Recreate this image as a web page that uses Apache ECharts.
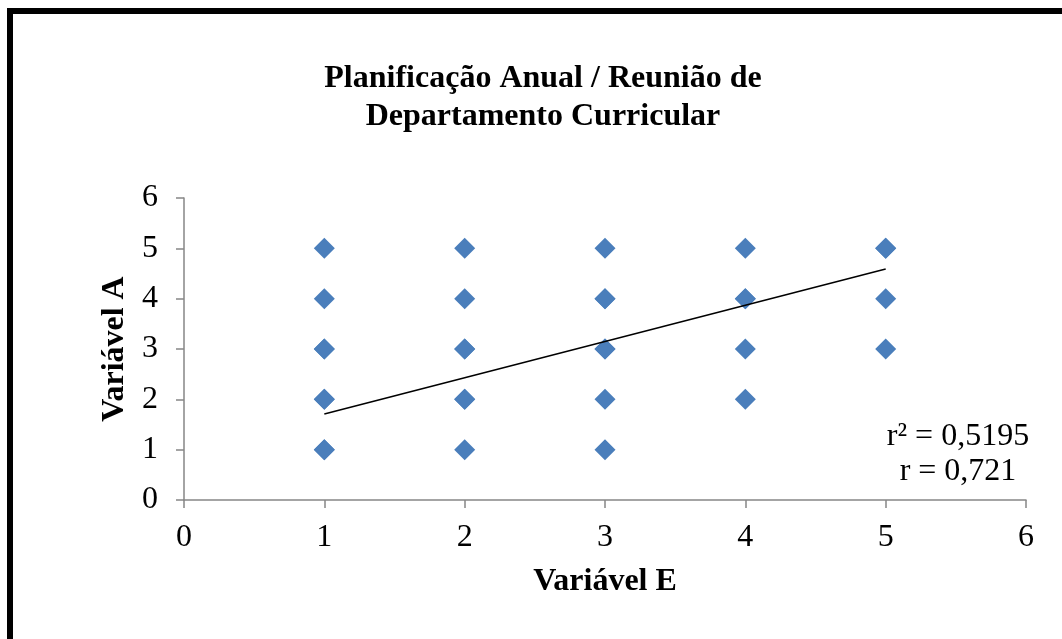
<!DOCTYPE html>
<html>
<head>
<meta charset="utf-8">
<script src="https://cdn.jsdelivr.net/npm/echarts@6/dist/echarts.min.js"></script>
<style>
  html, body { margin: 0; padding: 0; background: #fff; }
  #chart { width: 1062px; height: 639px; }
</style>
</head>
<body>
<div id="chart"></div>
<script>
// pontos observados (alguns repetidos, por isso aparecem mais escuros)
const varE = [1, 1, 1, 1, 1, 1, 1, 1, 2, 2, 2, 2, 2, 2, 2, 3, 3, 3, 3, 3, 3, 3, 4, 4, 4, 4, 4, 5, 5, 5, 5];
const varA = [1, 1, 2, 2, 3, 3, 4, 5, 1, 2, 2, 3, 3, 4, 5, 1, 2, 3, 3, 4, 4, 5, 2, 3, 4, 4, 5, 3, 4, 5, 5];
// linha de tendência (extremos)
const trendX = [1, 5];
const trendY = [1.71, 4.59];
const axisTicks = [0, 1, 2, 3, 4, 5, 6];

const serif = '"Liberation Serif", "Times New Roman", serif';
const chart = echarts.init(document.getElementById('chart'));

chart.setOption({
  animation: false,
  backgroundColor: '#fff',
  title: {
    text: 'Planificação Anual / Reunião de\nDepartamento Curricular',
    left: 538,
    top: 55,
    textAlign: 'center',
    textStyle: { fontFamily: serif, fontSize: 32, fontWeight: 'bold', color: '#000', lineHeight: 38 }
  },
  grid: { left: 184, right: 36, top: 198, bottom: 139 },
  xAxis: {
    type: 'value',
    min: axisTicks[0],
    max: axisTicks[axisTicks.length - 1],
    interval: 1,
    name: 'Variável E',
    nameLocation: 'middle',
    nameGap: 66,
    nameTextStyle: { fontFamily: serif, fontSize: 32, fontWeight: 'bold', color: '#000' },
    axisLine: { lineStyle: { color: '#868686', width: 1.5 } },
    axisTick: { show: true, length: 8, lineStyle: { color: '#868686', width: 1.5 } },
    axisLabel: { fontFamily: serif, fontSize: 32, color: '#000', margin: 22 },
    splitLine: { show: false }
  },
  yAxis: {
    type: 'value',
    min: axisTicks[0],
    max: axisTicks[axisTicks.length - 1],
    interval: 1,
    name: 'Variável A',
    nameLocation: 'middle',
    nameGap: 50,
    nameTextStyle: { fontFamily: serif, fontSize: 32, fontWeight: 'bold', color: '#000' },
    axisLine: { show: true, lineStyle: { color: '#868686', width: 1.5 } },
    axisTick: { show: true, length: 8, lineStyle: { color: '#868686', width: 1.5 } },
    axisLabel: { fontFamily: serif, fontSize: 32, color: '#000', margin: 26 },
    splitLine: { show: false }
  },
  series: [
    {
      type: 'scatter',
      symbol: 'diamond',
      symbolSize: [21, 21],
      itemStyle: { color: '#4a7ebb', opacity: 1 },
      data: varE.map((x, i) => [x, varA[i]]),
      z: 2
    },
    {
      type: 'line',
      symbol: 'none',
      lineStyle: { color: '#000', width: 1.5 },
      data: trendX.map((x, i) => [x, trendY[i]]),
      z: 3
    }
  ],
  graphic: [
    {
      type: 'rect',
      shape: { x: 10, y: 11, width: 1120, height: 700 },
      style: { fill: 'none', stroke: '#000', lineWidth: 6 }
    },
    {
      type: 'text',
      x: 958,
      y: 419,
      style: {
        text: 'r² = 0,5195\nr = 0,721',
        align: 'center',
        verticalAlign: 'top',
        font: '32px ' + serif,
        fill: '#000',
        lineHeight: 35
      }
    }
  ]
});
</script>
</body>
</html>
